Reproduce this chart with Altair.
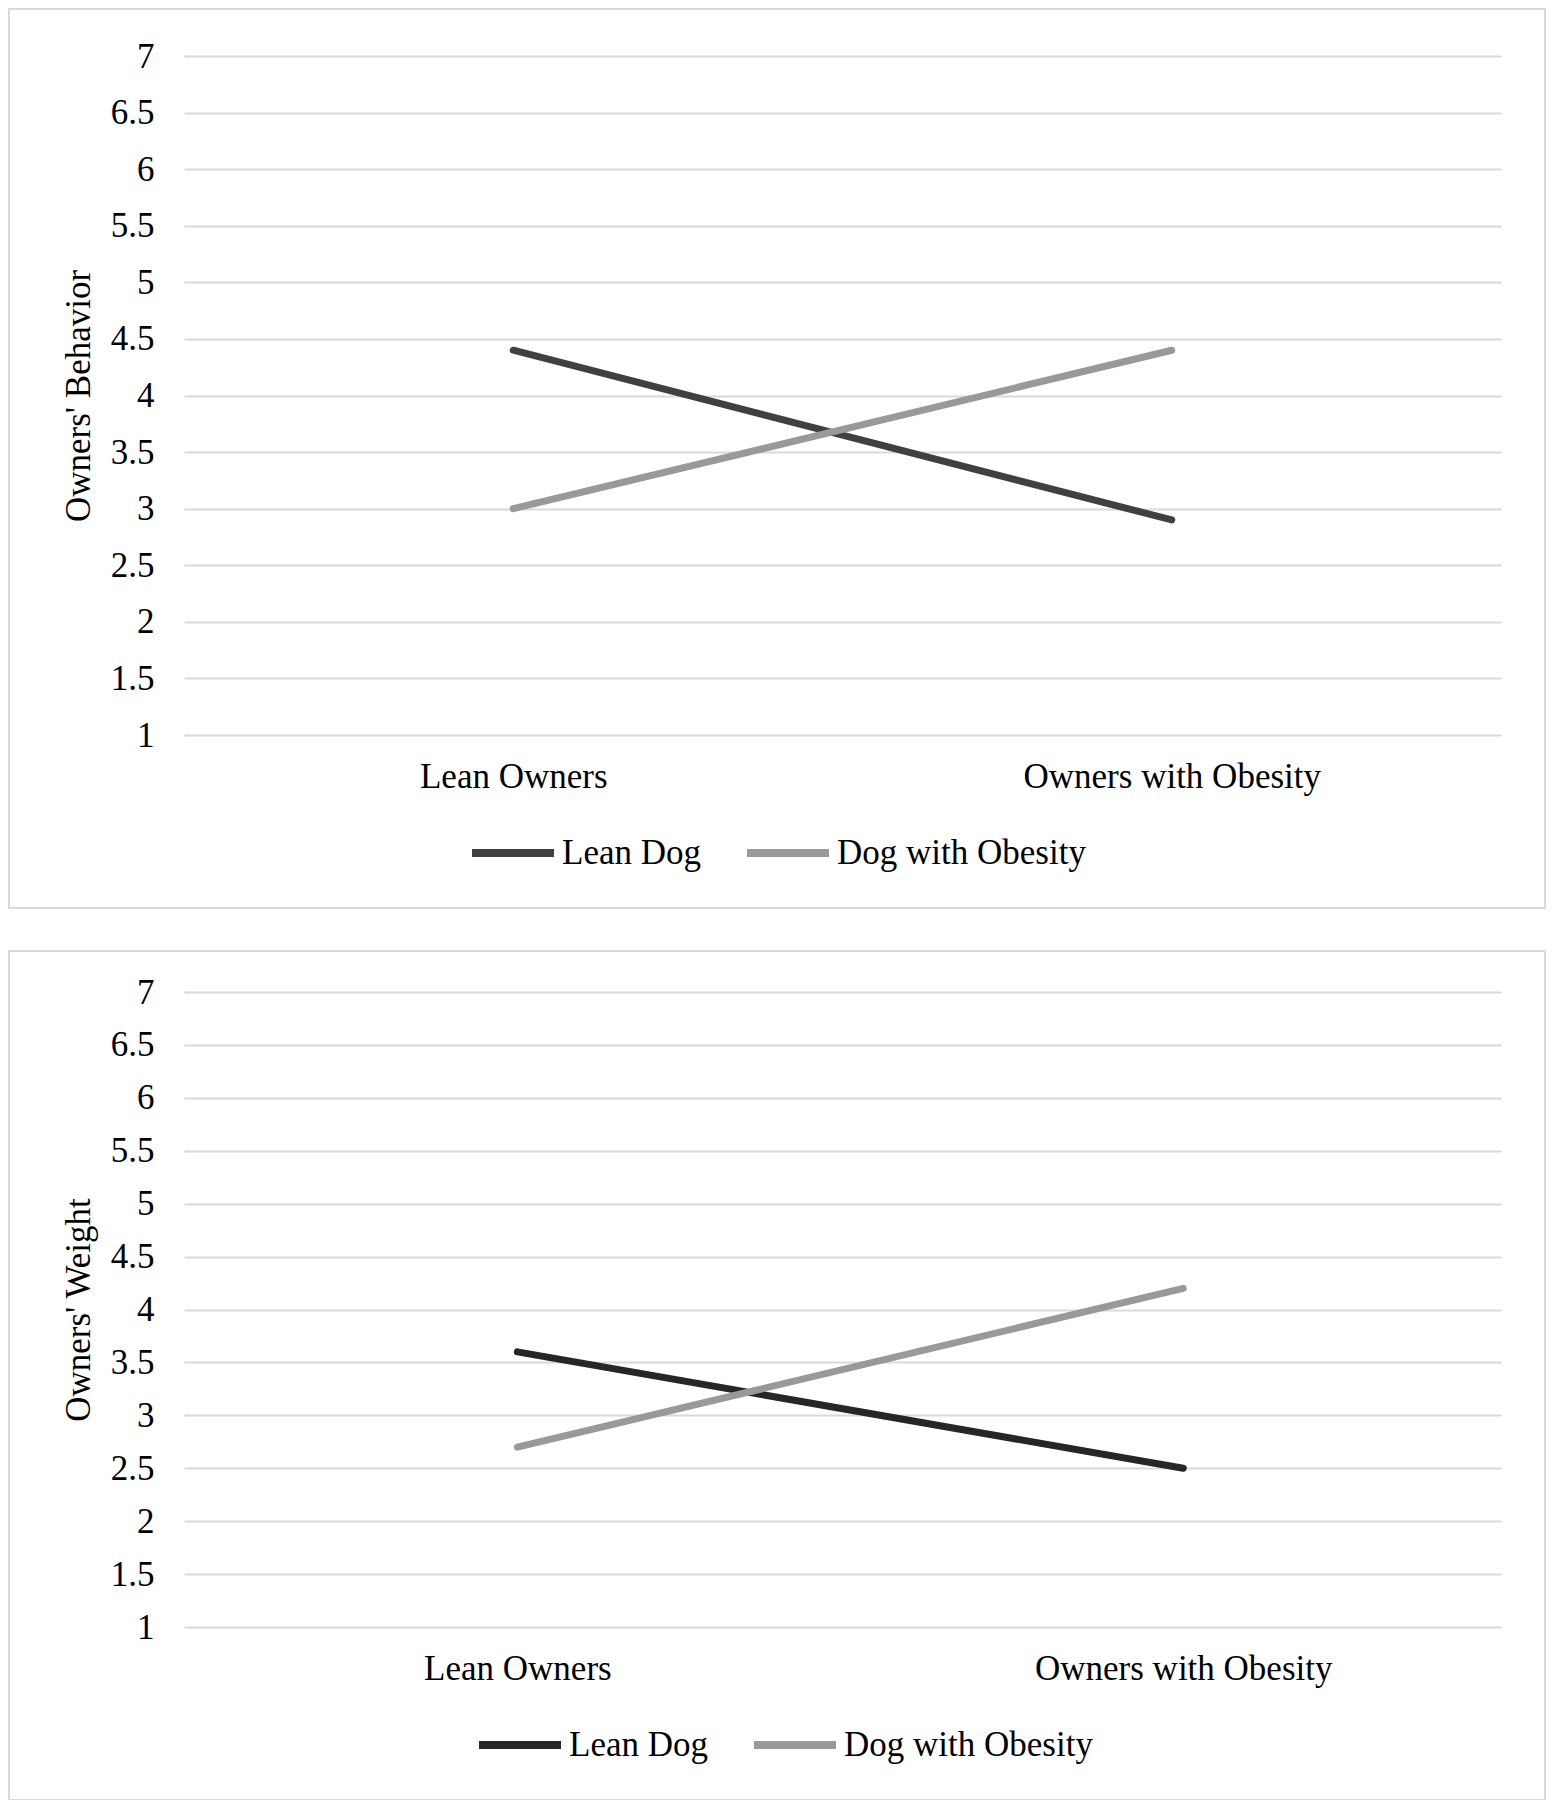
import altair as alt
import pandas as pd

groups = ["Lean Owners", "Owners with Obesity"]
series = ["Lean Dog", "Dog with Obesity"]
behavior_lean_dog = [4.4, 2.9]
behavior_obese_dog = [3.0, 4.4]
weight_lean_dog = [3.6, 2.5]
weight_obese_dog = [2.7, 4.2]
y_ticks = [1, 1.5, 2, 2.5, 3, 3.5, 4, 4.5, 5, 5.5, 6, 6.5, 7]

FONT = "Liberation Serif"
FS = 35
PLOT_W = 1317


def panel(lean, obese, ytitle, height, colors, frame_top, legend_x, legend_y,
          x_padding, x_align):
    df = pd.DataFrame({
        "group": groups * 2,
        "series": [series[0]] * 2 + [series[1]] * 2,
        "value": lean + obese,
    })
    lines = alt.Chart(df).mark_line(strokeWidth=7, strokeCap="round").encode(
        x=alt.X("group:N", sort=groups,
                scale=alt.Scale(type="point", padding=x_padding, align=x_align),
                axis=alt.Axis(title=None, labelAngle=0, labelFont=FONT, labelFontSize=FS,
                              labelColor="black", labelPadding=24, labelLimit=0,
                              ticks=False, domain=False, grid=False)),
        y=alt.Y("value:Q",
                scale=alt.Scale(domain=[1, 7], nice=False, zero=False),
                axis=alt.Axis(values=y_ticks, format=".1~f", title=ytitle,
                              labelFont=FONT, labelFontSize=FS, labelColor="black",
                              labelPadding=30, labelLimit=0, ticks=False, domain=False,
                              grid=True, gridColor="#d9d9d9", gridWidth=2,
                              titleFont=FONT, titleFontSize=FS, titleFontWeight="normal",
                              titleColor="black", titleAngle=270, titleX=-106,
                              titleY=height / 2, titleAlign="center",
                              titleBaseline="middle", titleLimit=0)),
        color=alt.Color("series:N", sort=series,
                        scale=alt.Scale(domain=series, range=colors),
                        legend=alt.Legend(orient="none", legendX=legend_x, legendY=legend_y,
                                          direction="horizontal", title=None,
                                          symbolType="stroke", symbolSize=6724,
                                          symbolStrokeWidth=8, labelFont=FONT,
                                          labelFontSize=FS, labelColor="black",
                                          labelLimit=0, labelOffset=4,
                                          columnPadding=30, padding=0)),
    )
    frame = alt.Chart(pd.DataFrame({"f": [0]})).mark_rect(
        fill="transparent", stroke="#d9d9d9", strokeWidth=2
    ).encode(
        x=alt.value(-175), x2=alt.value(PLOT_W + 44),
        y=alt.value(-frame_top), y2=alt.value(height + 173),
    )
    return alt.layer(frame, lines).properties(width=PLOT_W, height=height)


top = panel(behavior_lean_dog, behavior_obese_dog, "Owners' Behavior", 679,
            ["#404040", "#999999"], 47, 284, 752, 0.5, 0.5)
bottom = panel(weight_lean_dog, weight_obese_dog, "Owners' Weight", 635,
               ["#262626", "#999999"], 41, 291, 708, 0.489, 0.512)

chart = alt.vconcat(top, bottom, spacing=41).resolve_scale(
    color="independent", x="independent", y="independent"
).properties(padding=0, background="white").configure_view(strokeWidth=0)

chart.save("out.html", embed_options={"renderer": "svg", "actions": False})
